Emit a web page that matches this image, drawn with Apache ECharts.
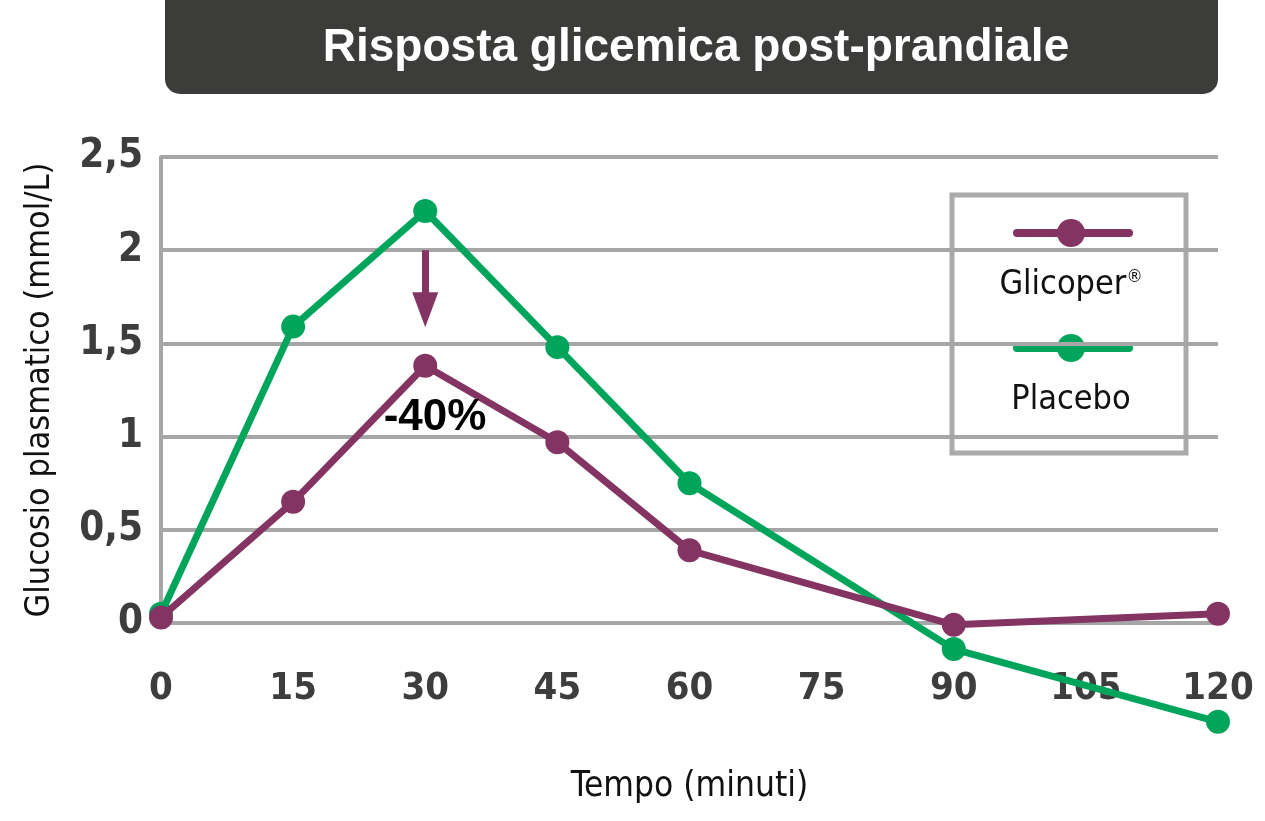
<!DOCTYPE html>
<html>
<head>
<meta charset="utf-8">
<script src="https://cdn.jsdelivr.net/npm/echarts@6/dist/echarts.min.js"></script>
<style>
html,body{margin:0;padding:0;background:#fff;}
#chart{width:1265px;height:821px;}
</style>
</head>
<body>
<div id="chart"></div>
<script>
const titleText = 'Risposta glicemica post-prandiale';
const xName = 'Tempo (minuti)';
const yName = 'Glucosio plasmatico (mmol/L)';
const minutes = [0, 15, 30, 45, 60, 90, 120];
const glicoper = [0.03, 0.65, 1.38, 0.97, 0.39, -0.01, 0.05];
const placebo = [0.05, 1.59, 2.21, 1.48, 0.75, -0.14, -0.53];
const seriesNames = ['Glicoper', 'Placebo'];
const reductionLabel = '-40%';
const arrowFrom = 2.0;
const arrowTo = 1.68;

const PURPLE = '#833463';
const GREEN = '#00a55b';
const GRIDC = '#a6a6a6';
const NARROW = '"Liberation Sans Narrow", "DejaVu Sans Condensed", "Roboto Condensed", sans-serif';
const WIDE = '"Liberation Sans", Arial, sans-serif';

const chart = echarts.init(document.getElementById('chart'));
const pairs = (xs, ys) => xs.map((x, i) => [x, ys[i]]);

chart.setOption({
  animation: false,
  title: {
    text: titleText,
    left: 691,
    textAlign: 'center',
    top: 18,
    textStyle: { color: '#ffffff', fontFamily: WIDE, fontWeight: 'bold', fontSize: 46, lineHeight: 50 }
  },
  grid: { left: 161, right: 47, top: 157, bottom: 198, containLabel: false },
  xAxis: {
    type: 'value', min: 0, max: 120, interval: 15,
    name: xName, nameLocation: 'middle', nameGap: 146,
    nameTextStyle: { fontFamily: NARROW, fontSize: 35, color: '#111' },
    axisLine: { show: false }, axisTick: { show: false }, splitLine: { show: false },
    axisLabel: { margin: 47, fontFamily: NARROW, fontWeight: 'bold', fontSize: 38, color: '#3d3d3d' }
  },
  yAxis: {
    type: 'value', min: 0, max: 2.5, interval: 0.5,
    name: yName, nameLocation: 'middle', nameGap: 104, nameRotate: 90,
    nameTextStyle: { fontFamily: NARROW, fontSize: 34, color: '#111' },
    axisLine: { show: true, lineStyle: { color: GRIDC, width: 4 } },
    axisTick: { show: false },
    splitLine: { show: true, lineStyle: { color: GRIDC, width: 4 } },
    axisLabel: {
      margin: 18, fontFamily: NARROW, fontWeight: 'bold', fontSize: 40, color: '#3d3d3d',
      formatter: v => String(v).replace('.', ',')
    }
  },
  series: [
    {
      name: seriesNames[1], type: 'line', clip: false, z: 3,
      data: pairs(minutes, placebo),
      symbol: 'circle', symbolSize: 24,
      lineStyle: { color: GREEN, width: 7 },
      itemStyle: { color: GREEN }
    },
    {
      name: seriesNames[0], type: 'line', clip: false, z: 4,
      data: pairs(minutes, glicoper),
      symbol: 'circle', symbolSize: 24,
      lineStyle: { color: PURPLE, width: 7 },
      itemStyle: { color: PURPLE },
      markLine: {
        silent: true, animation: false,
        symbol: ['none', 'triangle'], symbolSize: [26, 35],
        label: { show: false },
        lineStyle: { color: PURPLE, width: 7, type: 'solid' },
        data: [[{ coord: [minutes[2], arrowFrom] }, { coord: [minutes[2], arrowTo] }]]
      }
    }
  ],
  graphic: [
    { type: 'rect', z: 0, shape: { x: 165, y: -20, width: 1053, height: 114, r: 15 }, style: { fill: '#3c3c3b' } },
    { type: 'text', z: 10, style: { text: reductionLabel, x: 435, y: 418, align: 'center', verticalAlign: 'middle',
        font: 'bold 44px ' + WIDE, fill: '#000' } },
    { type: 'group', z: 100, children: [
      { type: 'rect', shape: { x: 952, y: 195, width: 234, height: 258 }, style: { fill: 'rgba(255,255,255,0.85)', stroke: '#aaaaaa', lineWidth: 5 } },
      { type: 'line', shape: { x1: 1017, y1: 233, x2: 1129, y2: 233 }, style: { stroke: PURPLE, lineWidth: 8, lineCap: 'round' } },
      { type: 'circle', shape: { cx: 1071, cy: 233, r: 14 }, style: { fill: PURPLE } },
      { type: 'text', style: { x: 1071, y: 285, align: 'center', verticalAlign: 'middle',
          rich: { a: { fontFamily: NARROW, fontSize: 34, fill: '#111' }, b: { fontFamily: NARROW, fontSize: 18, fill: '#111', verticalAlign: 'top', lineHeight: 34 } },
          text: '{a|' + seriesNames[0] + '}{b|®}' } },
      { type: 'line', shape: { x1: 1017, y1: 348, x2: 1129, y2: 348 }, style: { stroke: GREEN, lineWidth: 8, lineCap: 'round' } },
      { type: 'circle', shape: { cx: 1071, cy: 348, r: 14 }, style: { fill: GREEN } },
      { type: 'text', style: { x: 1071, y: 400, align: 'center', verticalAlign: 'middle',
          font: '34px ' + NARROW, fill: '#111', text: seriesNames[1] } }
    ]}
  ]
});
</script>
</body>
</html>
